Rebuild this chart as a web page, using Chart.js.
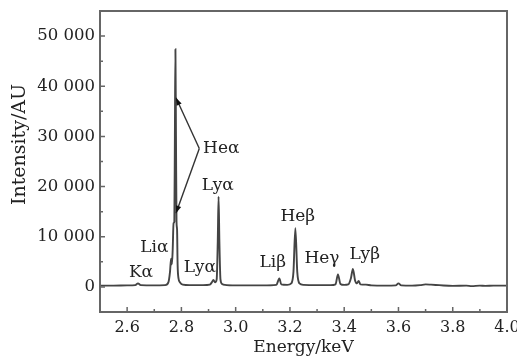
<!DOCTYPE html>
<html>
<head>
<meta charset="utf-8">
<script src="https://cdn.jsdelivr.net/npm/chart.js@4.4.1/dist/chart.umd.min.js"></script>
<style>
  body { margin: 0; background: #fff; }
  #wrap { width: 517px; height: 359px; }
</style>
</head>
<body>
<div id="wrap"><canvas id="spectrum" width="517" height="359"></canvas></div>
<script>
// spectrum (keV, AU)
const energy = [
  2.50, 2.55, 2.60, 2.63, 2.64, 2.65, 2.70, 2.74, 2.752, 2.758,
  2.762, 2.765, 2.768, 2.771, 2.774, 2.776, 2.778, 2.780, 2.782, 2.784,
  2.786, 2.789, 2.795, 2.805, 2.83, 2.88, 2.905, 2.912, 2.918, 2.924,
  2.930, 2.934, 2.937, 2.940, 2.944, 2.95, 2.96, 3.00, 3.10, 3.15,
  3.161, 3.168, 3.19, 3.205, 3.213, 3.220, 3.227, 3.235, 3.25, 3.30,
  3.35, 3.368, 3.377, 3.386, 3.40, 3.415, 3.425, 3.432, 3.440, 3.447,
  3.453, 3.46, 3.48, 3.50, 3.55, 3.59, 3.60, 3.61, 3.65, 3.68,
  3.70, 3.72, 3.75, 3.80, 3.85, 3.87, 3.90, 3.92, 3.95, 4.00
];
const intensity = [
  250, 250, 300, 350, 700, 350, 300, 350, 900, 3000,
  5600, 4500, 7500, 12700, 13000, 30000, 47400, 30000, 13000, 11500,
  4500, 1800, 900, 450, 350, 350, 450, 900, 1400, 900,
  1500, 9000, 18000, 9000, 1500, 600, 400, 300, 300, 400,
  1700, 500, 400, 700, 3000, 11700, 3000, 700, 400, 350,
  350, 500, 2500, 600, 400, 500, 1800, 3600, 1300, 700,
  1200, 500, 450, 300, 250, 300, 700, 300, 250, 350,
  500, 450, 350, 200, 250, 150, 250, 200, 250, 250
];

// peak names and where they sit (data coordinates)
const peakNames = ['Kα', 'Liα', 'Lyα', 'Lyα', 'Heα', 'Liβ', 'Heβ', 'Heγ', 'Lyβ'];
const peakLabelX = [2.651, 2.700, 2.868, 2.934, 2.947, 3.137, 3.229, 3.318, 3.476];
const peakLabelY = [2780, 7940, 3770, 20240, 27580, 4760, 14090, 5560, 6350];

// Heα bracket: vertex and two arrow tips
const bracketX = [2.866, 2.780, 2.780];
const bracketY = [27580, 37700, 14700];

const textColor = '#222';
const axisColor = '#666';
const serif = 'DejaVu Serif';

function fmtThousands(v) {
  return String(v).replace(/\B(?=(\d{3})+(?!\d))/g, ' ');
}

const framePlugin = {
  id: 'frame',
  afterDraw(chart) {
    const ctx = chart.ctx;
    const a = chart.chartArea;
    const xs = chart.scales.x;
    const ys = chart.scales.y;
    ctx.save();
    ctx.strokeStyle = axisColor;
    ctx.lineWidth = 2;
    ctx.strokeRect(a.left, a.top, a.right - a.left, a.bottom - a.top);

    // inward ticks
    ctx.lineWidth = 1.5;
    ctx.beginPath();
    xs.ticks.forEach(t => {
      const px = xs.getPixelForValue(t.value);
      const major = Math.round(t.value * 10) % 2 === 0;
      ctx.moveTo(px, a.bottom);
      ctx.lineTo(px, a.bottom - (major ? 5 : 3));
    });
    ys.ticks.forEach(t => {
      const py = ys.getPixelForValue(t.value);
      const major = Math.round(t.value / 5000) % 2 === 0;
      ctx.moveTo(a.left, py);
      ctx.lineTo(a.left + (major ? 5 : 3), py);
    });
    ctx.stroke();

    // peak labels
    ctx.fillStyle = textColor;
    ctx.font = '17px "' + serif + '"';
    ctx.textAlign = 'center';
    ctx.textBaseline = 'middle';
    peakNames.forEach((n, i) => {
      ctx.fillText(n, xs.getPixelForValue(peakLabelX[i]), ys.getPixelForValue(peakLabelY[i]));
    });

    // bracket with arrows
    const vx = xs.getPixelForValue(bracketX[0]);
    const vy = ys.getPixelForValue(bracketY[0]);
    ctx.strokeStyle = '#333';
    ctx.lineWidth = 1.4;
    for (let i = 1; i < bracketX.length; i++) {
      const tx = xs.getPixelForValue(bracketX[i]);
      const ty = ys.getPixelForValue(bracketY[i]);
      ctx.beginPath();
      ctx.moveTo(vx, vy);
      ctx.lineTo(tx, ty);
      ctx.stroke();
      const ang = Math.atan2(ty - vy, tx - vx);
      ctx.beginPath();
      ctx.moveTo(tx, ty);
      ctx.lineTo(tx - 8 * Math.cos(ang - 0.35), ty - 8 * Math.sin(ang - 0.35));
      ctx.lineTo(tx - 8 * Math.cos(ang + 0.35), ty - 8 * Math.sin(ang + 0.35));
      ctx.closePath();
      ctx.fillStyle = '#111';
      ctx.fill();
    }

    // y axis title
    ctx.fillStyle = textColor;
    ctx.font = '19px "' + serif + '"';
    ctx.translate(20, (a.top + a.bottom) / 2 - 17);
    ctx.rotate(-Math.PI / 2);
    ctx.fillText('Intensity/AU', 0, 0);
    ctx.restore();
  }
};

const ctx = document.getElementById('spectrum').getContext('2d');
new Chart(ctx, {
  type: 'line',
  data: {
    datasets: [{
      data: energy.map((e, i) => ({ x: e, y: intensity[i] })),
      borderColor: '#444',
      borderWidth: 1.9,
      pointRadius: 0,
      cubicInterpolationMode: 'monotone',
      fill: false
    }]
  },
  options: {
    responsive: false,
    animation: false,
    layout: { padding: { top: 11, right: 10, left: 0, bottom: 0 } },
    plugins: { legend: { display: false }, tooltip: { enabled: false } },
    scales: {
      x: {
        type: 'linear',
        min: 2.5,
        max: 4.0,
        grid: { display: false, drawTicks: false },
        border: { display: false },
        ticks: {
          stepSize: 0.1,
          autoSkip: false,
          maxRotation: 0,
          padding: 6,
          color: textColor,
          font: { family: serif, size: 16 },
          callback: v => (Math.round(v * 10) % 2 === 0 ? v.toFixed(1) : '')
        },
        title: {
          display: true,
          text: 'Energy/keV',
          color: textColor,
          font: { family: serif, size: 17 },
          padding: { top: 0, bottom: 1 }
        },
        afterFit(scale) {
          scale.height = 47;
          scale.paddingLeft = 0;
          scale.paddingRight = 0;
        }
      },
      y: {
        min: -5000,
        max: 55000,
        grid: { display: false, drawTicks: false },
        border: { display: false },
        ticks: {
          stepSize: 5000,
          padding: 5,
          color: textColor,
          font: { family: serif, size: 16.5 },
          callback: v => (v % 10000 === 0 ? fmtThousands(v) : '')
        },
        afterFit(scale) {
          scale.width = 100;
          scale.paddingTop = 0;
          scale.paddingBottom = 0;
        }
      }
    }
  },
  plugins: [framePlugin]
});
</script>
</body>
</html>
